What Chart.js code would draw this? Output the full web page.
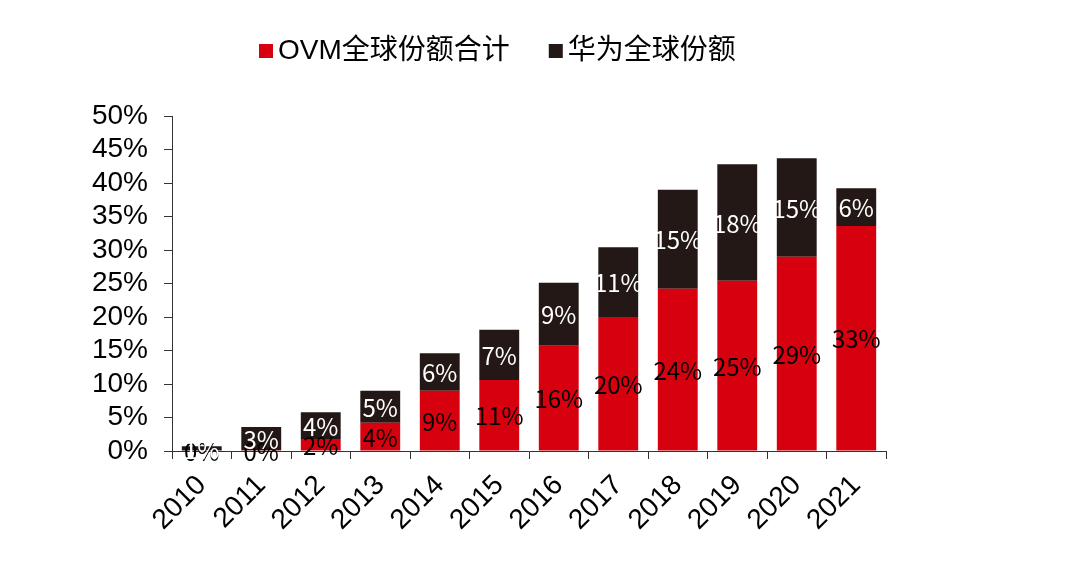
<!DOCTYPE html>
<html lang="zh-CN">
<head>
<meta charset="UTF-8">
<meta name="viewport" content="width=device-width, initial-scale=1.0">
<script src="https://cdn.jsdelivr.net/npm/chart.js@4.4.0/dist/chart.umd.min.js"></script>
<title>OVM与华为全球份额</title>
<style>
    html, body { margin: 0; padding: 0; background: #fff; }
    #wrap { width: 1080px; height: 568px; }
</style>
</head>
<body>
<div id="wrap"><canvas id="mychart-bar"></canvas></div>
<script>
    // 年份
    var years = ['2010', '2011', '2012', '2013', '2014', '2015', '2016', '2017', '2018', '2019', '2020', '2021'];
    // 柱高（%）
    var ovmShare    = [0, 0.1, 1.8, 4.2, 9.0, 10.6, 15.7, 20.0, 24.2, 25.4, 29.0, 33.6];
    var huaweiShare = [0.7, 3.5, 4.0, 4.8, 5.6, 7.5, 9.4, 10.4, 14.8, 17.4, 14.7, 5.6];
    // 柱上标注
    var ovmLabels    = ['0%', '0%', '2%', '4%', '9%', '11%', '16%', '20%', '24%', '25%', '29%', '33%'];
    var huaweiLabels = ['1%', '3%', '4%', '5%', '6%', '7%', '9%', '11%', '15%', '18%', '15%', '6%'];
    var seriesNames = ['OVM全球份额合计', '华为全球份额'];

    var axisFont = '"Liberation Sans", Arial, sans-serif';

    // 每段中间写数值
    var barLabels = {
        id: 'barLabels',
        afterDatasetsDraw: function (chart) {
            var c = chart.ctx;
            c.save();
            c.font = '24px "Noto Sans CJK SC", "DejaVu Sans", sans-serif';
            c.textAlign = 'center';
            c.textBaseline = 'middle';
            chart.data.datasets.forEach(function (ds, i) {
                var meta = chart.getDatasetMeta(i);
                c.fillStyle = ds.labelColor;
                meta.data.forEach(function (bar, j) {
                    c.fillText(ds.labelText[j], bar.x, (bar.y + bar.base) / 2 + 1);
                });
            });
            c.restore();
        }
    };

    // 顶部图例
    var topLegend = {
        id: 'topLegend',
        afterDraw: function (chart) {
            var c = chart.ctx;
            var x = 259, y = 51;
            c.save();
            c.font = '28px "Liberation Sans", "Noto Sans CJK SC", sans-serif';
            c.textBaseline = 'middle';
            chart.data.datasets.forEach(function (ds) {
                c.fillStyle = ds.backgroundColor;
                c.fillRect(x, y - 7, 14, 14);
                c.fillStyle = '#000';
                c.fillText(ds.label, x + 19, y);
                x += 19 + c.measureText(ds.label).width + 39;
            });
            c.restore();
        }
    };

    var ctx = document.getElementById('mychart-bar');
    var myChart = new Chart(ctx, {
        type: 'bar',
        data: {
            labels: years,
            datasets: [{
                label: seriesNames[0],
                data: ovmShare,
                backgroundColor: '#d7000f',
                labelColor: '#000',
                labelText: ovmLabels,
                barPercentage: 0.67,
                categoryPercentage: 1
            }, {
                label: seriesNames[1],
                data: huaweiShare,
                backgroundColor: '#231815',
                labelColor: '#fff',
                labelText: huaweiLabels,
                barPercentage: 0.67,
                categoryPercentage: 1
            }]
        },
        options: {
            responsive: true,
            maintainAspectRatio: false,
            animation: false,
            layout: { padding: { left: 0, right: 194, top: 116, bottom: 0 } },
            plugins: {
                legend: { display: false },
                tooltip: { enabled: false }
            },
            scales: {
                x: {
                    stacked: true,
                    afterFit: function (scale) { scale.height = 117; },
                    grid: { drawOnChartArea: false, drawTicks: true, tickLength: 8, color: '#333' },
                    border: { display: true, color: '#333', width: 1 },
                    ticks: {
                        autoSkip: false,
                        minRotation: 45,
                        maxRotation: 45,
                        padding: 10,
                        color: '#000',
                        font: { family: axisFont, size: 28 }
                    }
                },
                y: {
                    stacked: true,
                    min: 0,
                    max: 50,
                    afterFit: function (scale) { scale.width = 172; },
                    grid: { drawOnChartArea: false, drawTicks: true, tickLength: 8, color: '#333' },
                    border: { display: true, color: '#333', width: 1 },
                    ticks: {
                        autoSkip: false,
                        stepSize: 5,
                        padding: 16,
                        color: '#000',
                        font: { family: axisFont, size: 28 },
                        callback: function (v) { return v + '%'; }
                    }
                }
            }
        },
        plugins: [barLabels, topLegend]
    });
</script>
</body>
</html>
